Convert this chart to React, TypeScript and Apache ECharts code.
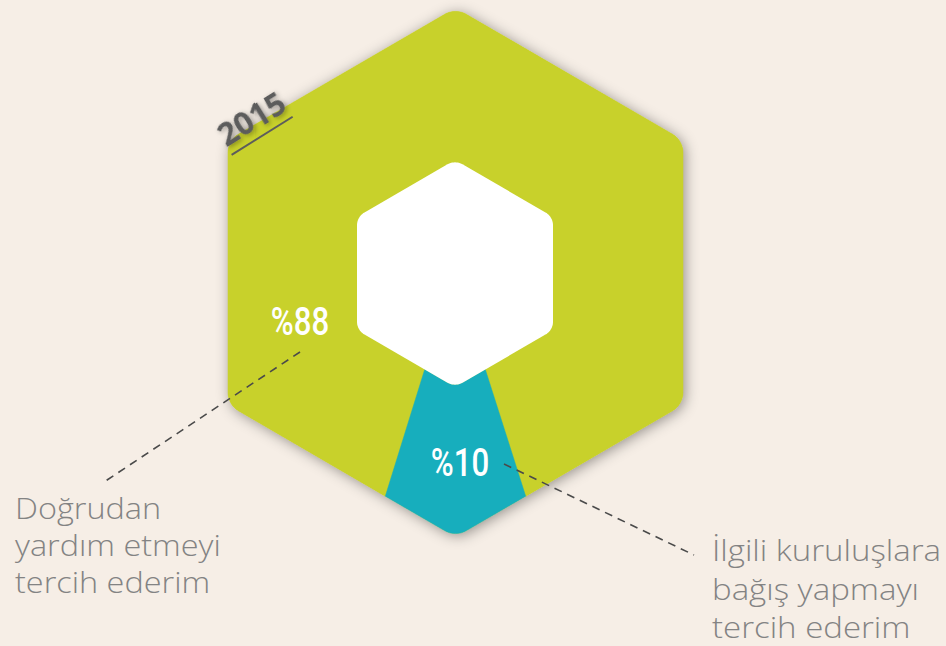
import React, { useEffect, useRef } from "react";
import * as echarts from "echarts";

// ---- data ----
const CATEGORIES = [
  "Doğrudan\nyardım etmeyi\ntercih ederim",
  "İlgili kuruluşlara\nbağış yapmayı\ntercih ederim",
];
const VALUES = [88, 10];
const YEAR = "2015";
const COLORS = ["#c8d12b", "#17aebd"];

// ---- layout ----
const BG = "#f6eee6";
const OUTER = { cx: 455.5, cy: 272.5, W: 227.5, H: 264.5, rc: 22 };
const INNER = { cx: 455, cy: 273.5, W: 98, H: 113.5, rc: 15 };
const LABEL_POS = [
  [300, 322],
  [460, 463],
];
const LEADERS = [
  [300, 352, 104, 482],
  [504, 464, 694, 555],
];
const CAT_POS = [
  [15, 489, 29.5, 37],
  [712, 530, 30, 38.5],
];

type Pt = [number, number];

function roundedHex(h: { cx: number; cy: number; W: number; H: number; rc: number }, n = 12): Pt[] {
  const { cx, cy, W, H, rc } = h;
  const V: Pt[] = [
    [cx, cy - H],
    [cx + W, cy - H / 2],
    [cx + W, cy + H / 2],
    [cx, cy + H],
    [cx - W, cy + H / 2],
    [cx - W, cy - H / 2],
  ];
  const out: Pt[] = [];
  let startIdx = 0;
  for (let i = 0; i < 6; i++) {
    const v = V[i];
    const p = V[(i + 5) % 6];
    const q = V[(i + 1) % 6];
    const l1 = Math.hypot(p[0] - v[0], p[1] - v[1]);
    const l2 = Math.hypot(q[0] - v[0], q[1] - v[1]);
    const u1: Pt = [(p[0] - v[0]) / l1, (p[1] - v[1]) / l1];
    const u2: Pt = [(q[0] - v[0]) / l2, (q[1] - v[1]) / l2];
    const th = Math.acos(u1[0] * u2[0] + u1[1] * u2[1]);
    const t = rc / Math.tan(th / 2);
    const bx = u1[0] + u2[0];
    const by = u1[1] + u2[1];
    const bl = Math.hypot(bx, by);
    const d = rc / Math.sin(th / 2);
    const O: Pt = [v[0] + (bx / bl) * d, v[1] + (by / bl) * d];
    const T1: Pt = [v[0] + u1[0] * t, v[1] + u1[1] * t];
    const T2: Pt = [v[0] + u2[0] * t, v[1] + u2[1] * t];
    const a1 = Math.atan2(T1[1] - O[1], T1[0] - O[0]);
    const a2 = Math.atan2(T2[1] - O[1], T2[0] - O[0]);
    let da = a2 - a1;
    while (da > Math.PI) da -= 2 * Math.PI;
    while (da < -Math.PI) da += 2 * Math.PI;
    if (i === 0) startIdx = out.length + n / 2;
    for (let k = 0; k <= n; k++) {
      const a = a1 + (da * k) / n;
      out.push([O[0] + rc * Math.cos(a), O[1] + rc * Math.sin(a)]);
    }
  }
  return out.slice(startIdx).concat(out.slice(0, startIdx));
}

function makePath(pts: Pt[]) {
  const N = pts.length;
  const cum: number[] = [0];
  for (let k = 0; k < N; k++) {
    const a = pts[k];
    const b = pts[(k + 1) % N];
    cum.push(cum[k] + Math.hypot(b[0] - a[0], b[1] - a[1]));
  }
  const L = cum[N];
  const at = (s: number): Pt => {
    s = ((s % L) + L) % L;
    let k = 0;
    while (k < N - 1 && cum[k + 1] <= s) k++;
    const a = pts[k];
    const b = pts[(k + 1) % N];
    const seg = cum[k + 1] - cum[k];
    const f = seg > 0 ? (s - cum[k]) / seg : 0;
    return [a[0] + (b[0] - a[0]) * f, a[1] + (b[1] - a[1]) * f];
  };
  const sub = (f0: number, f1: number): Pt[] => {
    let s0 = f0 * L;
    let s1 = f1 * L;
    const base = Math.floor(s0 / L) * L;
    s0 -= base;
    s1 -= base;
    const res: Pt[] = [at(s0)];
    for (let w = 0; w < 3; w++) {
      for (let k = 0; k < N; k++) {
        const s = cum[k] + w * L;
        if (s > s0 && s < s1) res.push(pts[k]);
      }
    }
    res.push(at(s1));
    return res;
  };
  return { sub, pts };
}

export default function App() {
  const ref = useRef<HTMLDivElement>(null);
  useEffect(() => {
    document.body.style.margin = "0";
    document.body.style.background = BG;
    const chart = echarts.init(ref.current!, null, { renderer: "svg" });
    const outerPts = roundedHex(OUTER);
    const innerPts = roundedHex(INNER);
    const outerPath = makePath(outerPts);
    const innerPath = makePath(innerPts);
    const total = VALUES.reduce((a, b) => a + b, 0);
    const before = VALUES.slice(0, -1).reduce((a, b) => a + b, 0);
    const last = VALUES[VALUES.length - 1];
    const offset = 0.5 - (before + last / 2) / total + 1;

    const labelFont = "Roboto, sans-serif";
    const textFont = "'Open Sans', 'Noto Sans', sans-serif";

    chart.setOption({
      animation: false,
      backgroundColor: BG,
      graphic: [
        {
          type: "polygon",
          z: 0,
          shape: { points: outerPts },
          style: {
            fill: COLORS[0],
            shadowBlur: 14,
            shadowColor: "rgba(0,0,0,0.4)",
            shadowOffsetX: 2,
            shadowOffsetY: 2,
          },
        },
        {
          type: "polygon",
          z: 10,
          shape: { points: innerPts },
          style: { fill: "#ffffff" },
        },
        ...LEADERS.map((l) => ({
          type: "line",
          z: 11,
          shape: { x1: l[0], y1: l[1], x2: l[2], y2: l[3] },
          style: { stroke: "#4a4a4a", lineWidth: 1.6, lineDash: [8, 6] },
        })),
        ...CATEGORIES.map((c, i) => ({
          type: "text",
          z: 11,
          x: CAT_POS[i][0],
          y: CAT_POS[i][1],
          scaleX: 1.1,
          style: {
            text: c,
            fontFamily: textFont,
            fontWeight: 300,
            fontSize: CAT_POS[i][2],
            lineHeight: CAT_POS[i][3],
            fill: "#838383",
            verticalAlign: "top",
            align: "left",
          },
        })),
        {
          type: "group",
          x: 251,
          y: 118,
          rotation: (32 * Math.PI) / 180,
          z: 11,
          children: [
            {
              type: "text",
              z: 11,
              x: 0,
              y: 0,
              style: {
                text: YEAR,
                fontFamily: "'Open Sans', sans-serif",
                fontWeight: "bold",
                fontSize: 32,
                fill: "#5c5c5c",
                align: "center",
                verticalAlign: "middle",
                textShadowBlur: 5,
                textShadowColor: "rgba(0,0,0,0.35)",
                textShadowOffsetX: 1,
                textShadowOffsetY: 2,
              },
            },
            {
              type: "line",
              z: 11,
              shape: { x1: -36, y1: 21, x2: 36, y2: 21 },
              style: { stroke: "#5c5c5c", lineWidth: 2 },
            },
          ],
        },
      ],
      series: [
        {
          type: "custom",
          coordinateSystem: "none",
          z: 2,
          data: VALUES.map((v) => ({ value: v })),
          renderItem: (params: any, api: any) => {
            const i = params.dataIndex;
            const startV = VALUES.slice(0, i).reduce((a, b) => a + b, 0);
            const v = api.value(0);
            const f0 = offset + startV / total;
            const f1 = offset + (startV + v) / total;
            const o = outerPath.sub(f0, f1);
            const inn = innerPath.sub(f0, f1).reverse();
            return {
              type: "group",
              children: [
                {
                  type: "polygon",
                  shape: { points: o.concat(inn) },
                  style: { fill: COLORS[i], stroke: COLORS[i], lineWidth: 0.5 },
                },
                {
                  type: "text",
                  z2: 20,
                  x: LABEL_POS[i][0],
                  y: LABEL_POS[i][1],
                  scaleX: 0.8,
                  style: {
                    text: "%" + v,
                    fontFamily: labelFont,
                    fontWeight: 500,
                    fontSize: 39,
                    fill: "#ffffff",
                    align: "center",
                    verticalAlign: "middle",
                  },
                },
              ],
            };
          },
        },
      ],
    });
    return () => chart.dispose();
  }, []);
  return (
    <div
      ref={ref}
      style={{ position: "fixed", left: 0, top: 0, width: 946, height: 646 }}
    />
  );
}
